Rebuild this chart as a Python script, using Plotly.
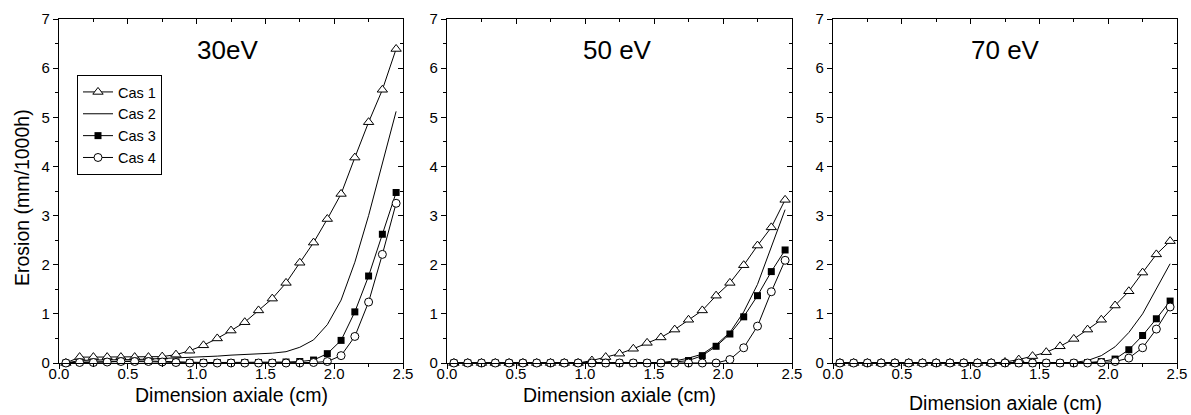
import plotly.graph_objects as go

# ---------------- data ----------------
x_cm = [0.05, 0.15, 0.25, 0.35, 0.45, 0.55, 0.65, 0.75, 0.85, 0.95,
        1.05, 1.15, 1.25, 1.35, 1.45, 1.55, 1.65, 1.75, 1.85, 1.95,
        2.05, 2.15, 2.25, 2.35, 2.45]

panel_titles = ["30eV", "50 eV", "70 eV"]
series_names = ["Cas 1", "Cas 2", "Cas 3", "Cas 4"]

# 30 eV
cas1_30 = [0.00, 0.12, 0.12, 0.12, 0.12, 0.12, 0.12, 0.13, 0.17, 0.25,
           0.36, 0.50, 0.66, 0.83, 1.07, 1.31, 1.63, 2.04, 2.45, 2.93,
           3.44, 4.18, 4.90, 5.56, 6.39]
cas2_30 = [0.00, 0.05, 0.06, 0.06, 0.07, 0.07, 0.08, 0.09, 0.10, 0.11,
           0.13, 0.14, 0.16, 0.17, 0.18, 0.20, 0.23, 0.32, 0.47, 0.78,
           1.28, 2.05, 3.00, 4.05, 5.12]
cas3_30 = [0.00, 0.02, 0.02, 0.03, 0.04, 0.04, 0.04, 0.03, 0.02, 0.01,
           0.01, 0.01, 0.01, 0.01, 0.01, 0.01, 0.02, 0.03, 0.06, 0.19,
           0.46, 1.04, 1.77, 2.62, 3.47]
cas4_30 = [0.00, 0.01, 0.01, 0.02, 0.03, 0.03, 0.03, 0.02, 0.01, 0.00,
           0.00, 0.00, 0.00, 0.00, 0.00, 0.00, 0.00, 0.00, 0.01, 0.03,
           0.15, 0.54, 1.24, 2.21, 3.25]

# 50 eV
cas1_50 = [0.00, 0.00, 0.00, 0.00, 0.00, 0.00, 0.00, 0.00, 0.00, 0.00,
           0.05, 0.12, 0.19, 0.29, 0.41, 0.52, 0.68, 0.88, 1.07, 1.37,
           1.63, 1.99, 2.39, 2.76, 3.32]
cas2_50 = [0.00, 0.00, 0.00, 0.00, 0.00, 0.00, 0.00, 0.00, 0.00, 0.00,
           0.00, 0.00, 0.00, 0.00, 0.00, 0.01, 0.04, 0.10, 0.18, 0.37,
           0.62, 1.04, 1.60, 2.35, 3.12]
cas3_50 = [0.00, 0.00, 0.00, 0.00, 0.00, 0.00, 0.00, 0.00, 0.00, 0.00,
           0.00, 0.00, 0.00, 0.00, 0.00, 0.00, 0.02, 0.05, 0.15, 0.34,
           0.59, 0.94, 1.37, 1.86, 2.30]
cas4_50 = [0.00, 0.00, 0.00, 0.00, 0.00, 0.00, 0.00, 0.00, 0.00, 0.00,
           0.00, 0.00, 0.00, 0.00, 0.00, 0.00, 0.00, 0.00, 0.00, 0.00,
           0.07, 0.31, 0.75, 1.45, 2.09]

# 70 eV
cas1_70 = [0.00, 0.00, 0.00, 0.00, 0.00, 0.00, 0.00, 0.00, 0.00, 0.00,
           0.00, 0.00, 0.02, 0.07, 0.14, 0.22, 0.34, 0.49, 0.68, 0.88,
           1.17, 1.46, 1.84, 2.21, 2.48]
cas2_70 = [0.00, 0.00, 0.00, 0.00, 0.00, 0.00, 0.00, 0.00, 0.00, 0.00,
           0.00, 0.00, 0.00, 0.00, 0.00, 0.00, 0.00, 0.01, 0.05, 0.15,
           0.33, 0.62, 1.00, 1.50, 2.02]
cas3_70 = [0.00, 0.00, 0.00, 0.00, 0.00, 0.00, 0.00, 0.00, 0.00, 0.00,
           0.00, 0.00, 0.00, 0.00, 0.00, 0.00, 0.00, 0.00, 0.01, 0.03,
           0.08, 0.27, 0.56, 0.90, 1.26]
cas4_70 = [0.00, 0.00, 0.00, 0.00, 0.00, 0.00, 0.00, 0.00, 0.00, 0.00,
           0.00, 0.00, 0.00, 0.00, 0.00, 0.00, 0.00, 0.00, 0.00, 0.01,
           0.03, 0.10, 0.31, 0.69, 1.14]

panels = [
    [cas1_30, cas2_30, cas3_30, cas4_30],
    [cas1_50, cas2_50, cas3_50, cas4_50],
    [cas1_70, cas2_70, cas3_70, cas4_70],
]

x_title = "Dimension axiale (cm)"
y_title = "Erosion (mm/1000h)"

# ---------------- layout geometry ----------------
W, H = 1191, 415
FONT = "Liberation Sans, Arial, Helvetica, sans-serif"
px_x = [(59, 403), (447, 792), (833, 1177)]
px_top, px_bot = 19, 363
ydom = [1 - px_bot / H, 1 - px_top / H]

styles = [
    dict(mode="lines+markers",
         marker=dict(symbol="triangle-up", size=9, color="white",
                     line=dict(color="black", width=1))),
    dict(mode="lines"),
    dict(mode="lines+markers",
         marker=dict(symbol="square", size=7, color="black",
                     line=dict(color="black", width=0))),
    dict(mode="lines+markers",
         marker=dict(symbol="circle", size=8, color="white",
                     line=dict(color="black", width=1))),
]

fig = go.Figure()
layout = dict(
    width=W, height=H,
    margin=dict(l=0, r=0, t=0, b=0, pad=0, autoexpand=False),
    paper_bgcolor="white", plot_bgcolor="white",
    font=dict(family=FONT, size=15, color="black"),
    showlegend=True,
    legend=dict(x=77 / W, y=1 - 75 / H, xanchor="left", yanchor="top",
                bordercolor="black", borderwidth=1, bgcolor="white",
                font=dict(family=FONT, size=14.5, color="black"),
                tracegroupgap=0),
)

annotations = []
for i, (vals, (x0, x1)) in enumerate(zip(panels, px_x)):
    n = i + 1
    xa = "x" if n == 1 else f"x{n}"
    ya = "y" if n == 1 else f"y{n}"
    for j, (name, v) in enumerate(zip(series_names, vals)):
        st = styles[j]
        fig.add_trace(go.Scatter(
            x=x_cm, y=v, name=name, xaxis=xa, yaxis=ya,
            mode=st["mode"], marker=st.get("marker"),
            line=dict(color="black", width=1),
            showlegend=(i == 0), cliponaxis=False,
        ))
    xdom = [x0 / W, x1 / W]
    common = dict(showgrid=False, zeroline=False, linecolor="black",
                  linewidth=1.2, ticklen=5, tickwidth=1.2, tickcolor="black",
                  showline=True, automargin=False)
    layout[f"xaxis{n}"] = dict(
        domain=xdom, anchor=ya, range=[0, 2.5], tick0=0, dtick=0.5,
        ticks="outside", tickformat=".1f", ticklabelstandoff=-8,
        tickfont=dict(size=15, family=FONT),
        minor=dict(dtick=0.25, ticks="outside", ticklen=3, tickcolor="black",
                   tickwidth=1.2), **common)
    layout[f"yaxis{n}"] = dict(
        domain=ydom, anchor=xa, range=[0, 7], tick0=0, dtick=1,
        ticks="outside", tickfont=dict(size=15, family=FONT),
        minor=dict(dtick=0.5, ticks="outside", ticklen=3, tickcolor="black",
                   tickwidth=1.2), **common)
    # mirrored axes (top / right) with inside ticks
    m = n + 3
    layout[f"xaxis{m}"] = dict(
        domain=xdom, anchor=ya, overlaying=xa, side="top", range=[0, 2.5],
        tick0=0, dtick=0.5, ticks="inside", showticklabels=False,
        minor=dict(dtick=0.25, ticks="inside", ticklen=3, tickcolor="black",
                   tickwidth=1.2), **common)
    layout[f"yaxis{m}"] = dict(
        domain=ydom, anchor=xa, overlaying=ya, side="right", range=[0, 7],
        tick0=0, dtick=1, ticks="inside", showticklabels=False,
        minor=dict(dtick=0.5, ticks="inside", ticklen=3, tickcolor="black",
                   tickwidth=1.2), **common)
    # panel title
    cx = [227.5, 617, 1006][i]
    annotations.append(dict(text=panel_titles[i], x=cx / W, y=1 - 50 / H,
                            xref="paper", yref="paper", showarrow=False,
                            xanchor="center", yanchor="middle",
                            font=dict(size=26, family=FONT, color="black")))
    # x-axis title
    ty = [395, 395, 403][i]
    annotations.append(dict(text=x_title, x=(x0 + x1) / 2 / W, y=1 - ty / H,
                            xref="paper", yref="paper", showarrow=False,
                            xanchor="center", yanchor="middle",
                            font=dict(size=19.5, family=FONT, color="black")))

# dummy traces so the overlay axes render
for m in (4, 5, 6):
    fig.add_trace(go.Scatter(x=[None], y=[None], xaxis=f"x{m}", yaxis=f"y{m}",
                             showlegend=False, hoverinfo="skip"))

annotations.append(dict(text=y_title, x=22 / W, y=1 - 198 / H,
                        xref="paper", yref="paper", showarrow=False,
                        textangle=-90, xanchor="center", yanchor="middle",
                        font=dict(size=19.5, family=FONT, color="black")))
layout["annotations"] = annotations
fig.update_layout(**layout)

fig.write_html(
    "out.html",
    config={"displayModeBar": False},
    post_script="document.body.style.margin='0';"
                "document.body.style.overflow='hidden';",
)
